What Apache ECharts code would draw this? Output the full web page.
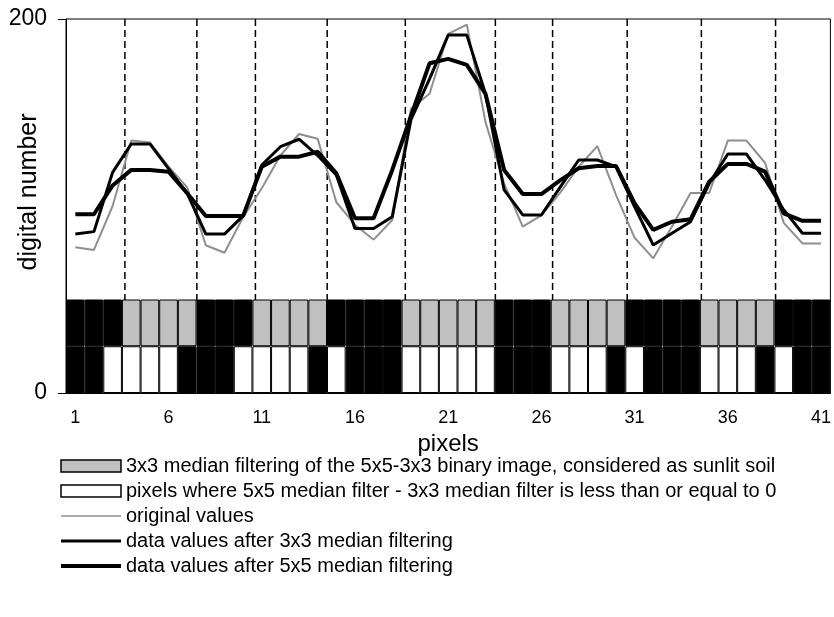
<!DOCTYPE html>
<html>
<head>
<meta charset="utf-8">
<script src="https://cdn.jsdelivr.net/npm/echarts@6/dist/echarts.min.js"></script>
<style>
html,body{margin:0;padding:0;background:#fff;}
#chart{width:834px;height:617px;}
</style>
</head>
<body>
<div id="chart"></div>
<script>
// ---- data ----
const pixelLabels = Array.from({length: 41}, (_, i) => String(i + 1));
const originalValues = [78, 76.5, 100, 135, 134, 121, 110, 79, 75, 94, 109.5, 127, 138.5, 136, 102, 90, 82, 92.5, 152, 160, 192, 197, 145, 112, 89, 95, 107, 121, 132, 106, 83, 72, 89, 107, 107, 135, 135, 123, 91, 80, 80];
const median3x3 = [85, 86.3, 118, 133.2, 133.2, 120, 106.8, 85, 85, 94.7, 121.9, 131.7, 135.7, 127, 116.6, 88, 88, 94.3, 146, 168, 191.4, 191.4, 160, 108.6, 95.2, 95.2, 110, 124.6, 124.6, 121, 99.6, 79.1, 85.4, 91.6, 112, 127.8, 127.8, 113.9, 97.9, 85.4, 85.4];
const median5x5 = [95.6, 95.6, 111, 119.3, 119.3, 118.3, 106.8, 94.7, 94.7, 94.7, 121, 126.4, 126.4, 129, 117.5, 93.4, 93.4, 119.3, 148, 176.3, 178.7, 175.5, 160, 119.3, 106.4, 106.4, 113.7, 120.2, 121.4, 121.4, 101.4, 87.2, 91.6, 92.9, 113, 122.5, 122.5, 118.4, 96.1, 92.1, 92.1];
// binary rows: G = sunlit soil (grey), W = 5x5-3x3 <= 0 (white), B = black
const topRow = 'BBBGGGGBBBGGGGBBBBGGGGGBBBGGGGBBBBGGGGBBB'.split('');
const bottomRow = 'BBWWWWBBBWWWWBWBBBWWWWWBBBWWWBWBBBWWWBWBB'.split('');
const rowHeight = 25;
// dashed separators (x in pixel units)
const separators = [3.66, 7.52, 10.66, 14.51, 18.7, 23.53, 26.6, 30.6, 34.58, 38.56];
const separatorTop = 200, separatorBottom = 49;
const yTicks = [0, 200];

const NAME_GREY = '3x3 median filtering of the 5x5-3x3 binary image, considered as sunlit soil';
const NAME_WHITE = 'pixels where 5x5 median filter - 3x3 median filter is less than or equal to 0';
const NAME_ORIG = 'original values';
const NAME_3 = 'data values after 3x3 median filtering';
const NAME_5 = 'data values after 5x5 median filtering';

const FONT = '"Liberation Sans", Arial, Helvetica, sans-serif';
const GREY_LINE = '#8f8f8f';
const HIDDEN_SYMBOL = {color: 'rgba(0,0,0,0)', borderWidth: 0, opacity: 0};

const chart = echarts.init(document.getElementById('chart'), null, {renderer: 'canvas'});
chart.setOption({
  animation: false,
  backgroundColor: '#fff',
  textStyle: {fontFamily: FONT, color: '#000'},
  grid: {left: 66, top: 19, width: 770, height: 374, show: true, borderColor: '#000', borderWidth: 1, backgroundColor: 'transparent'},
  xAxis: [{
    type: 'category', data: pixelLabels, boundaryGap: true,
    axisLine: {lineStyle: {color: '#000', width: 1}},
    axisTick: {interval: 0, length: 5, lineStyle: {color: '#000'}},
    axisLabel: {interval: 4, color: '#000', fontSize: 18, fontFamily: FONT, margin: 16},
    name: 'pixels', nameLocation: 'middle', nameGap: 34,
    nameTextStyle: {fontSize: 24, color: '#000', fontFamily: FONT},
    splitLine: {show: false}
  }, {
    type: 'value', min: 0.5, max: 41.5, show: false
  }],
  yAxis: {
    type: 'value', min: yTicks[0], max: yTicks[1], interval: yTicks[1] - yTicks[0],
    axisLine: {show: true, lineStyle: {color: '#000', width: 1}},
    axisTick: {show: true, length: 8, lineStyle: {color: '#000'}},
    axisLabel: {color: '#000', fontSize: 23, fontFamily: FONT, margin: 19},
    splitLine: {show: false}
  },
  graphic: [{
    type: 'text', x: 29, y: 192, rotation: Math.PI / 2,
    style: {text: 'digital number', font: '25px ' + FONT, fill: '#000', align: 'center', verticalAlign: 'middle'}
  }],
  legend: {
    orient: 'vertical', left: 59, top: 456, padding: 0, itemWidth: 60, itemHeight: 12, itemGap: 5,
    textStyle: {fontSize: 20, color: '#000', fontFamily: FONT, lineHeight: 20},
    selectedMode: false,
    data: [
      {name: NAME_GREY, icon: 'rect', itemStyle: {color: '#c0c0c0', borderColor: '#000', borderWidth: 1.5}},
      {name: NAME_WHITE, icon: 'rect', itemStyle: {color: '#fff', borderColor: '#000', borderWidth: 1.5}},
      {name: NAME_ORIG, lineStyle: {width: 1.5, color: GREY_LINE}, itemStyle: HIDDEN_SYMBOL},
      {name: NAME_3, lineStyle: {width: 3, color: '#000'}, itemStyle: HIDDEN_SYMBOL},
      {name: NAME_5, lineStyle: {width: 4, color: '#000'}, itemStyle: HIDDEN_SYMBOL}
    ]
  },
  series: [
    {
      name: NAME_WHITE, type: 'bar', stack: 'cells', barCategoryGap: '0%',
      itemStyle: {color: '#fff', borderColor: '#000', borderWidth: 1},
      data: bottomRow.map(c => ({value: rowHeight, itemStyle: {color: c === 'W' ? '#fff' : '#000'}}))
    },
    {
      name: NAME_GREY, type: 'bar', stack: 'cells', barCategoryGap: '0%',
      itemStyle: {color: '#c0c0c0', borderColor: '#000', borderWidth: 1},
      data: topRow.map(c => ({value: rowHeight, itemStyle: {color: c === 'G' ? '#c0c0c0' : '#000'}}))
    },
    {
      type: 'custom', xAxisIndex: 1, yAxisIndex: 0, silent: true,
      data: separators.map(s => [s, separatorTop, separatorBottom]),
      encode: {x: 0, y: [1, 2]},
      renderItem: function (params, api) {
        const p1 = api.coord([api.value(0), api.value(1)]);
        const p2 = api.coord([api.value(0), api.value(2)]);
        return {type: 'line', shape: {x1: p1[0], y1: p1[1], x2: p2[0], y2: p2[1]},
          style: {stroke: '#000', lineWidth: 1.5, lineDash: [7, 4]}};
      }
    },
    {name: NAME_ORIG, type: 'line', data: originalValues, symbol: 'none', lineStyle: {color: GREY_LINE, width: 2}, itemStyle: {color: GREY_LINE}},
    {name: NAME_3, type: 'line', data: median3x3, symbol: 'none', lineStyle: {color: '#000', width: 3}, itemStyle: {color: '#000'}},
    {name: NAME_5, type: 'line', data: median5x5, symbol: 'none', lineStyle: {color: '#000', width: 4}, itemStyle: {color: '#000'}}
  ]
});
</script>
</body>
</html>
